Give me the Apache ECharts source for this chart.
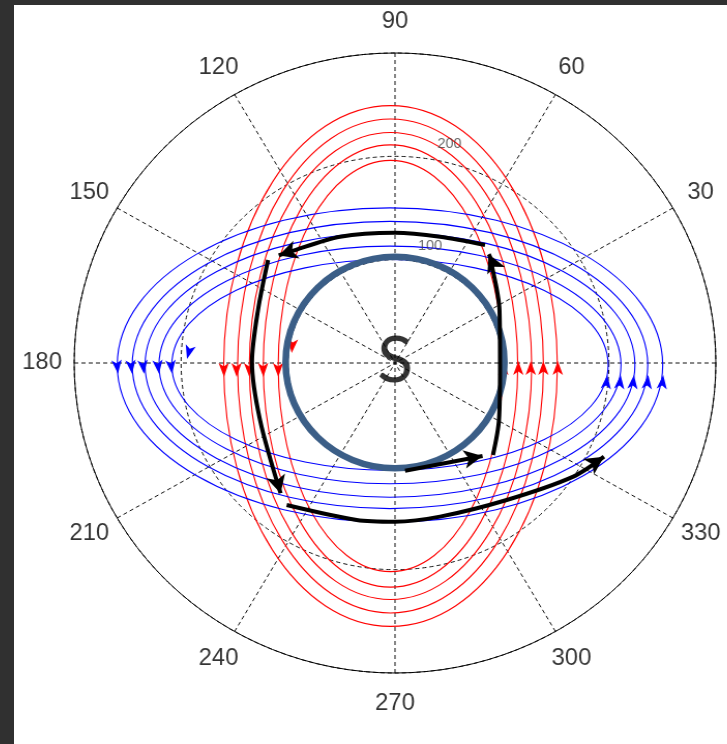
<!DOCTYPE html>
<html><head><meta charset="utf-8">
<script src="https://cdn.jsdelivr.net/npm/echarts@6/dist/echarts.min.js"></script>
<style>
html,body{margin:0;padding:0;width:727px;height:744px;overflow:hidden;background:#303030;}
#panel{position:absolute;left:14px;top:5px;width:713px;height:739px;background:#fff;}
#chart{position:absolute;left:0;top:0;width:727px;height:744px;transform:scaleX(1.035);transform-origin:395px 363px;}
</style></head>
<body><div id="panel"></div><div id="chart"></div>
<script>
// ---- axis ticks ----
const angleTicks = [0, 30, 60, 90, 120, 150, 180, 210, 240, 270, 300, 330];
const radiusTicks = [100, 200];
const rMax = 300;

// ---- closed curves: centre + semi-axes (radius units) ----
const redCenter = [-4.2, -2.9];
const redSemiX = [156, 143, 132, 119, 105];
const redSemiY = [252, 239, 226, 214, 199];
const blueCenter = [-4.7, -1.9];
const blueSemiX = [255, 241, 229, 216, 204];
const blueSemiY = [152, 139, 128, 115, 102];
const sunCenter = [0, 0.5];
const sunRadius = 102.3;

// ---- direction arrows on curves ----
const redArrowX = [-159.9, -148.0, -136.2, -123.1, -109.1, -96.6, 101.3, 115.3, 126.9, 138.7, 152.2];
const redArrowY = [-13.5, -13.5, -13.5, -13.5, -13.5, 9.7, 2.0, 2.0, 2.0, 2.0, 2.0];
const blueArrowX = [-259.0, -245.9, -234.7, -220.7, -208.5, -194.5, 198.5, 211.0, 223.4, 236.8, 250.8];
const blueArrowY = [-10.5, -10.5, -10.5, -10.5, -10.5, 3.9, -11.6, -11.6, -11.6, -11.6, -11.6];

// ---- black trajectory (each piece ends at its arrow tip) ----
const pathA = [[9.4, -104.2], [90.4, -88.3]];
const pathB = [[91.6, -89.0], [97.2, -55.2], [98.2, -3.9], [97.7, 51.3], [88.8, 102.6], [84.2, 113.2]];
const pathC = [[84.2, 114.2], [42.1, 122.2], [0, 126.1], [-51.4, 122.2], [-98.2, 107.7], [-116.9, 101.3]];
const pathD = [[-118.7, 99.7], [-128.1, 51.3], [-133.7, 1.0], [-126.2, -55.2], [-104.7, -134.5]];
const pathE = [[-101.3, -137.4], [-35.8, -151.9], [0, -153.6], [42.1, -148.7], [104.4, -132.6], [166.7, -110.0], [202.6, -85.8]];

// ---- styles ----
const redArrowRot = [181, 181, 181, 181, 181, 175, 0, 0, 0, 0, 0];
const blueArrowRot = [186, 186, 186, 186, 186, 165, -6, -6, -6, -6, -6];

const chart = echarts.init(document.getElementById('chart'), null, {renderer: 'canvas'});
const DEG = Math.PI / 180;
const PX_PER_UNIT = 310 / rMax;

function ellipseSeries(name, center, sx, sy, color, width, z) {
  return {
    name, type: 'custom', coordinateSystem: 'cartesian2d', silent: true, clip: false, z,
    data: sx.map((a, i) => [center[0], center[1], a, sy[i]]),
    renderItem(params, api) {
      const c = api.coord([api.value(0), api.value(1)]);
      const s = api.size([api.value(2), api.value(3)]);
      return {type: 'ellipse', shape: {cx: c[0], cy: c[1], rx: s[0], ry: s[1]},
              style: {fill: 'none', stroke: color, lineWidth: width}};
    }
  };
}
function arrowSeries(name, xs, ys, rots, color, size, z) {
  return {
    name, type: 'scatter', coordinateSystem: 'cartesian2d', symbol: 'arrow', symbolSize: size,
    silent: true, clip: false, z, itemStyle: {color, opacity: 1},
    data: xs.map((x, i) => ({value: [x, ys[i]], symbolRotate: rots[i]}))
  };
}
const ARROW_LEN = 18;
function pathSeries(path) {
  const n = path.length;
  const tip = path[n - 1], prev = path[n - 2];
  const dx = tip[0] - prev[0], dy = tip[1] - prev[1];
  const L = Math.hypot(dx, dy);
  const back = ARROW_LEN / 2 / PX_PER_UNIT;
  const centre = [tip[0] - dx / L * back, tip[1] - dy / L * back];
  const rot = Math.atan2(-dx, dy) / DEG;
  return [
    {type: 'line', coordinateSystem: 'cartesian2d', data: path.slice(0, n - 1).concat([centre]),
     smooth: 0.3, symbol: 'none', silent: true, z: 6, lineStyle: {color: '#000', width: 4}},
    {type: 'scatter', coordinateSystem: 'cartesian2d', symbol: 'arrow', symbolSize: [14, ARROW_LEN],
     silent: true, clip: false, z: 7, itemStyle: {color: '#000', opacity: 1},
     data: [{value: centre, symbolRotate: rot}]}
  ];
}

const labelR = rMax * 1.1;
const series = [
  ellipseSeries('red', redCenter, redSemiX, redSemiY, '#ff0000', 1.1, 2),
  ellipseSeries('blue', blueCenter, blueSemiX, blueSemiY, '#0000ff', 1.1, 3),
  arrowSeries('redArrows', redArrowX, redArrowY, redArrowRot, '#ff0000', [7.5, 14], 4),
  arrowSeries('blueArrows', blueArrowX, blueArrowY, blueArrowRot, '#0000ff', [7.5, 14], 4),
  ellipseSeries('sun', sunCenter, [sunRadius], [sunRadius], '#3b5e87', 6.5, 5),
  ...pathSeries(pathA), ...pathSeries(pathB), ...pathSeries(pathC), ...pathSeries(pathD), ...pathSeries(pathE),
  {type: 'scatter', coordinateSystem: 'cartesian2d', silent: true, clip: false, symbolSize: 1, z: 8,
   itemStyle: {color: 'rgba(0,0,0,0)'},
   data: angleTicks.map(a => ({name: String(a), value: [labelR * Math.cos(a * DEG), labelR * Math.sin(a * DEG)]})),
   label: {show: true, position: 'inside', formatter: '{b}', color: '#000', fontSize: 23,
           fontFamily: '"Liberation Sans", Arial, sans-serif'}},
  {type: 'scatter', coordinateSystem: 'cartesian2d', silent: true, clip: false, symbolSize: 1, z: 8,
   itemStyle: {color: 'rgba(0,0,0,0)'},
   data: radiusTicks.map(r => ({name: String(r), value: [(r + 15) * Math.cos(79.5 * DEG), (r + 15) * Math.sin(79.5 * DEG)]})),
   label: {show: true, position: 'right', distance: 0, formatter: '{b}', color: '#444', fontSize: 14,
           fontFamily: '"Liberation Sans", Arial, sans-serif'}},
  {type: 'scatter', coordinateSystem: 'cartesian2d', silent: true, clip: false, symbolSize: 1, z: 8,
   itemStyle: {color: 'rgba(0,0,0,0)'},
   data: [{name: 'S', value: [0, 1.3]}],
   label: {show: true, position: 'inside', formatter: '{b}', color: '#000', fontSize: 64, fontFamily: 'Lato, "Open Sans", sans-serif'}}
];

chart.setOption({
  animation: false,
  polar: {center: [395, 363], radius: 310},
  angleAxis: {type: 'value', min: 0, max: 360, interval: 30, startAngle: 0, clockwise: false, z: 1,
    axisLine: {show: true, lineStyle: {color: '#000', width: 1}}, axisTick: {show: false}, axisLabel: {show: false},
    splitLine: {show: true, lineStyle: {color: '#111', width: 1, type: [4, 3]}}},
  radiusAxis: {type: 'value', min: 0, max: rMax, interval: 100, z: 1,
    axisLine: {show: false}, axisTick: {show: false}, axisLabel: {show: false},
    splitLine: {show: true, lineStyle: {color: '#111', width: 1, type: [4, 3]}}},
  grid: {left: 395 - 310, top: 363 - 310, width: 620, height: 620},
  xAxis: {type: 'value', min: -rMax, max: rMax, show: false},
  yAxis: {type: 'value', min: -rMax, max: rMax, show: false},
  series
});
</script></body></html>
